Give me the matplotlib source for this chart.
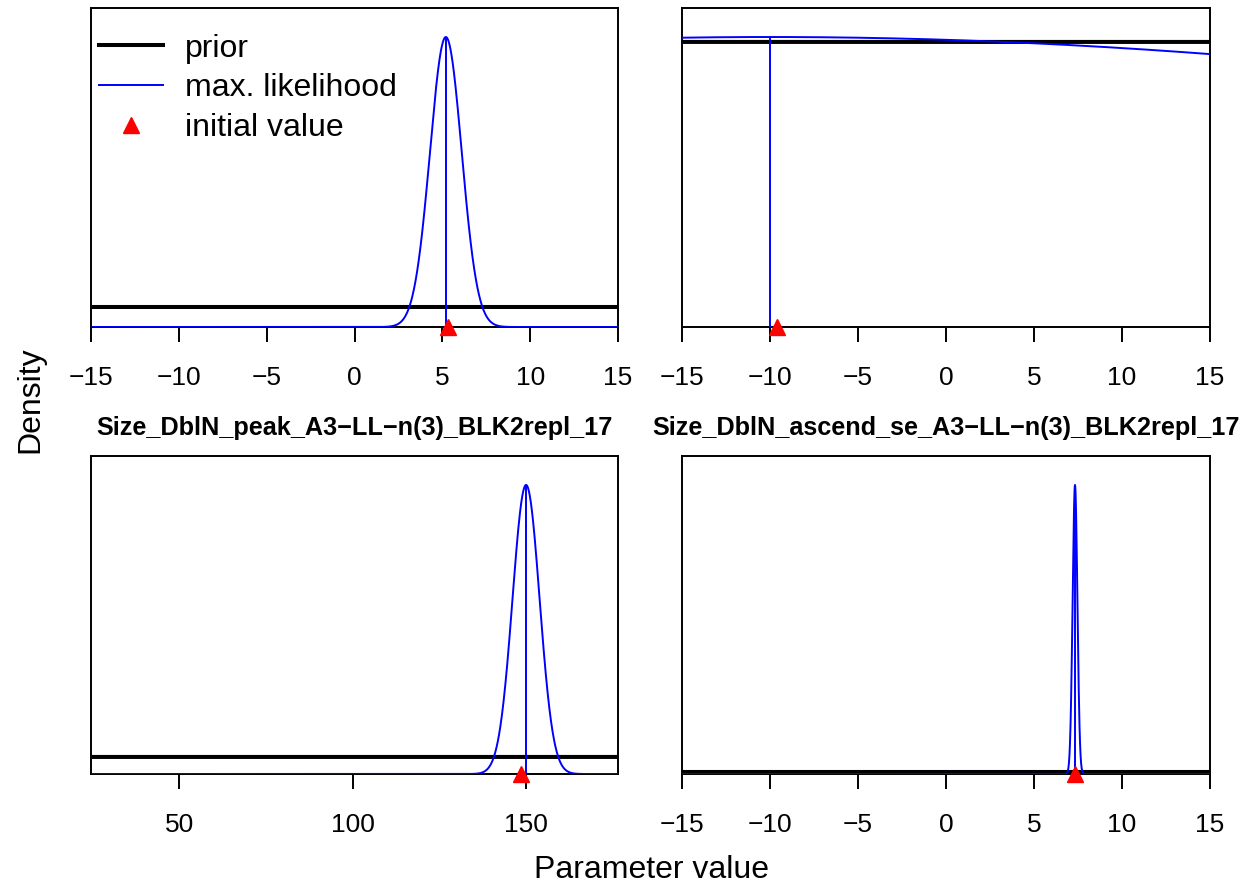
import numpy as np
import matplotlib
matplotlib.use("Agg")
import matplotlib.pyplot as plt
from matplotlib.transforms import Bbox, TransformedBbox

plt.rcParams['font.family'] = ['Liberation Sans', 'DejaVu Sans']

# ---- data ----
titles = [None, None,
          "Size_DblN_peak_A3\u2212LL\u2212n(3)_BLK2repl_17",
          "Size_DblN_ascend_se_A3\u2212LL\u2212n(3)_BLK2repl_17"]
mle = [5.2, -10.0, 150.0, 7.33]          # max. likelihood estimate
mle_sd = [0.9, 71.7, 3.9, 0.135]         # spread of likelihood curve
init_val = [5.3, -9.6, 148.6, 7.33]      # initial value
prior_rel = [0.069, 0.983, 0.059, 0.007] # prior density relative to ML peak
xmin = [-15, -15, 24.6, -15]
xmax = [15, 15, 176.5, 15]
xticks = [[-15, -10, -5, 0, 5, 10, 15],
          [-15, -10, -5, 0, 5, 10, 15],
          [50, 100, 150],
          [-15, -10, -5, 0, 5, 10, 15]]

W, H = 1241, 886
fig = plt.figure(figsize=(W / 100, H / 100), dpi=100)

# axes boxes in pixels: (left, top, right, bottom)
boxes = [(91, 8, 618, 327), (682, 8, 1210, 327),
         (91, 456, 618, 774), (682, 456, 1210, 774)]

tick_fs = 19
lab_fs = 23

axes = []
for i, (l, t, r, b) in enumerate(boxes):
    ax = fig.add_axes([l / W, 1 - b / H, (r - l) / W, (b - t) / H])
    axes.append(ax)
    x = np.linspace(xmin[i], xmax[i], 2000)
    dens = np.exp(-0.5 * ((x - mle[i]) / mle_sd[i]) ** 2)
    prior = np.full_like(x, prior_rel[i])
    ax.plot(x, prior, color='black', lw=2.9, label='prior', zorder=2)
    ax.plot(x, dens, color='blue', lw=1.4, label='max. likelihood', zorder=3)
    ax.vlines(mle[i], 0, 1.0, color='blue', lw=1.4, zorder=3)
    ax.plot([init_val[i]], [0], marker='^', color='red', ms=12, ls='none',
            clip_on=False, zorder=5, label='initial value')
    ax.set_xlim(xmin[i], xmax[i])
    ax.set_ylim(0, 1.1 * max(1.0, prior_rel[i]))
    ax.set_yticks([])
    ax.set_xticks(xticks[i])
    ax.tick_params(axis='x', direction='out', length=11, width=1.4,
                   pad=17, labelsize=tick_fs)
    for s in ax.spines.values():
        s.set_linewidth(1.4)
    if titles[i]:
        cx = (l + r) / 2 / W
        txt = fig.text(cx, 1 - 428 / H, titles[i], ha='center', va='center',
                       fontsize=18.2, fontweight='bold')
        if i == 3:
            # the reference clips this long title to its figure region
            clip = TransformedBbox(Bbox([[640 / W, 0], [1, 1]]), fig.transFigure)
            txt.set_clip_box(clip)
            txt.set_clip_on(True)

leg = axes[0].legend(loc='upper left', bbox_to_anchor=(0.0, 0.945),
                     frameon=False, fontsize=lab_fs, handlelength=2.0,
                     handletextpad=0.7, labelspacing=0.3, borderaxespad=0.15,
                     borderpad=0.1)

fig.text(30 / W, 1 - 400 / H, "Density", rotation=90, ha='center', va='center',
         fontsize=lab_fs)
fig.text(651 / W, 1 - 870 / H, "Parameter value", ha='center', va='center',
         fontsize=lab_fs)

fig.savefig("out.png", dpi=100)
